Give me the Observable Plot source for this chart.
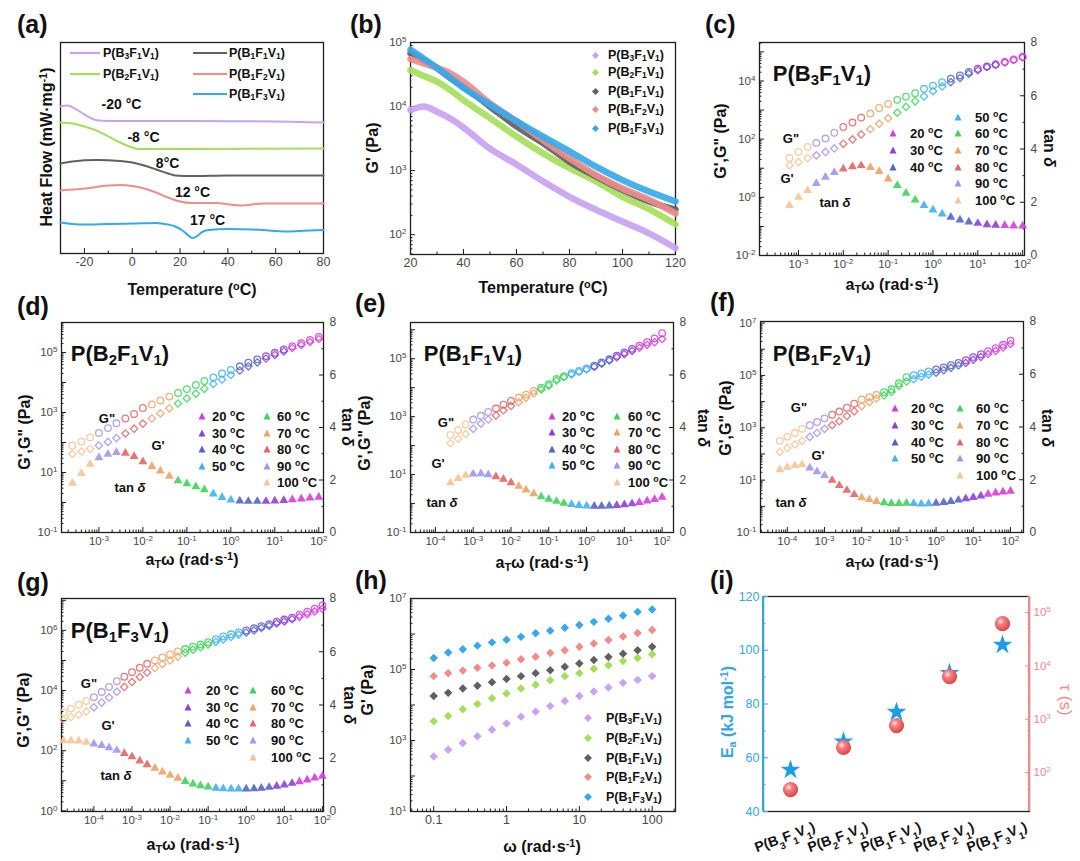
<!DOCTYPE html>
<html><head><meta charset="utf-8">
<script src="https://cdn.jsdelivr.net/npm/d3@7"></script>
<script src="https://cdn.jsdelivr.net/npm/@observablehq/plot@0.6"></script>
<style>
body{margin:0;background:#fff;}
#fig{position:relative;width:1080px;height:861px;overflow:hidden;background:#fff;font-family:"Liberation Sans",Arial,Helvetica,sans-serif;}
.ov{position:absolute;white-space:nowrap;font-weight:bold;color:#111;line-height:1;}
.ov sub{font-size:68%;vertical-align:-0.28em;line-height:0;}
.ov sup{font-size:68%;vertical-align:0.5em;line-height:0;}
</style></head><body><div id="fig"></div><script>
// ---------------- DATA ----------------
const SAMPLES = ["P(B_{3}F_{1}V_{1})","P(B_{2}F_{1}V_{1})","P(B_{1}F_{1}V_{1})","P(B_{1}F_{2}V_{1})","P(B_{1}F_{3}V_{1})"];
// (a) DSC curves (arbitrary heat-flow units, stacked)
const aX_B3F1V1 = [-30,-27,-24,-20,-17,-14,-10,0,20,40,60,80];
const aY_B3F1V1 = [69.7,70.1,68.7,65.9,64,63,62.8,62.8,62.8,62.7,62.6,62.1];
const aX_B2F1V1 = [-30,-25,-20,-15,-10,-5,0,3,10,30,50,80];
const aY_B2F1V1 = [62.1,61.6,60.2,58.3,55.5,52.6,50.2,49.5,49.5,49.5,49.6,49.8];
const aX_B1F1V1 = [-30,-25,-15,-5,0,5,10,15,18,25,40,80];
const aY_B1F1V1 = [42.7,43.6,44.3,43.8,43.1,41.7,39.8,37.9,37.0,36.7,37,37];
const aX_B1F2V1 = [-30,-20,-10,-5,0,5,10,15,20,25,35,45,55,80];
const aY_B1F2V1 = [29.9,30.8,32.2,32.5,32,30.8,28.9,26.5,24.6,23.9,23.9,22.8,23.7,23.7];
const aX_B1F3V1 = [-30,-25,-20,-10,0,10,15,18,21,24,25,27,29,32,40,50,60,65,70,80];
const aY_B1F3V1 = [14.7,14,13.7,14,14.2,14.5,13.7,12.8,10.9,8.1,7.3,8.1,10,11.1,11.6,11.4,10.7,10.4,10.7,11.1];
const aTgLabels = ["-20 °C","-8 °C","8°C","12 °C","17 °C"];
const aTgX = [-4.5,4.7,14.8,25.2,31.5];
const aTgY = [70.6,55,42.7,28.9,15.6];
const aXTicks = [-20,0,20,40,60,80];
const aXMinor = [-30,-10,10,30,50,70];
// (b) G' vs temperature
const bT = [20,25,30,35,40,50,60,70,80,90,100,110,120];
const bG_B3F1V1 = [8800,10000,8300,6500,4700,2200,1250,680,390,245,160,105,62];
const bG_B2F1V1 = [37000,30000,24500,18000,12600,6600,3400,1860,1090,680,390,250,145];
const bG_B1F1V1 = [68000,52000,40000,28000,20500,10000,4900,2700,1380,810,500,330,245];
const bG_B1F2V1 = [55000,47000,40000,33000,24500,11200,5900,3000,1560,850,525,350,215];
const bG_B1F3V1 = [77000,56000,40000,28000,19500,10700,5900,3400,2000,1150,710,470,330];
const bXTicks = [20,40,60,80,100,120];
const bXMinor = [30,50,70,90,110];
const bYTicks = [1e2,1e3,1e4,1e5];
// master curves (c)-(g): shared reduced-frequency grid (rad/s)
const FREQ = [1.6e-5,2.5e-5,4e-5,6.3e-5,1e-4,1.6e-4,2.5e-4,4e-4,6.3e-4,1e-3,1.6e-3,2.5e-3,4e-3,6.3e-3,1e-2,1.6e-2,2.5e-2,4e-2,6.3e-2,0.1,0.16,0.25,0.4,0.63,1,1.6,2.5,4,6.3,10,16,25,40,63,100];
const TEMPS = [20,30,40,50,60,70,80,90,100];
const TEMP_ORDER_LOWFREQ = [100,90,80,70,60,50,40,30,20];
// log10 G'' , log10 G' , tan delta
const cGpp = [1.35,1.56,1.73,1.87,2.02,2.22,2.42,2.57,2.74,2.88,3.07,3.21,3.35,3.46,3.58,3.73,3.84,3.96,4.08,4.19,4.31,4.42,4.50,4.57,4.65,4.74,4.83];
const cGp  = [1.10,1.21,1.35,1.44,1.56,1.68,1.84,1.99,2.16,2.34,2.53,2.72,2.91,3.11,3.30,3.47,3.65,3.81,3.96,4.10,4.25,4.37,4.48,4.56,4.64,4.72,4.81];
const cTan = [1.88,2.19,2.44,2.71,2.94,3.12,3.25,3.34,3.38,3.31,3.16,2.88,2.63,2.34,2.09,1.88,1.71,1.56,1.44,1.34,1.26,1.21,1.16,1.14,1.13,1.11,1.11];
const cCounts = [3,3,3,3,3,3,3,3,3];
const dGpp = [1.9,2.03,2.17,2.32,2.48,2.64,2.8,2.95,3.15,3.27,3.4,3.53,3.65,3.78,3.92,4.05,4.17,4.3,4.42,4.54,4.66,4.77,4.88,4.99,5.1,5.21,5.31,5.42,5.52];
const dGp  = [1.62,1.7,1.79,1.9,2.02,2.15,2.3,2.46,2.63,2.8,2.97,3.14,3.3,3.47,3.63,3.79,3.95,4.1,4.25,4.4,4.54,4.67,4.8,4.92,5.04,5.15,5.25,5.35,5.45];
const dTan = [1.88,2.25,2.6,2.85,2.98,3.05,3.02,2.9,2.7,2.52,2.35,2.15,1.97,1.86,1.75,1.63,1.47,1.34,1.24,1.2,1.19,1.19,1.19,1.2,1.22,1.25,1.28,1.32,1.35];
const dCounts = [3,3,3,3,4,3,3,3,4];
const eGpp = [2.37,2.54,2.73,2.9,3.03,3.16,3.28,3.41,3.54,3.66,3.76,3.89,4.0,4.12,4.3,4.4,4.5,4.58,4.66,4.76,4.87,4.98,5.1,5.22,5.34,5.45,5.57,5.7,5.88];
const eGp  = [2.08,2.24,2.4,2.58,2.76,2.9,3.04,3.22,3.37,3.5,3.65,3.8,3.94,4.07,4.25,4.36,4.46,4.55,4.63,4.72,4.83,4.94,5.05,5.16,5.27,5.38,5.48,5.57,5.68];
const eTan = [1.9,2.06,2.18,2.23,2.24,2.2,2.13,2.03,1.9,1.76,1.62,1.48,1.36,1.27,1.19,1.12,1.07,1.03,1.01,1.0,1.0,1.01,1.03,1.06,1.1,1.15,1.2,1.26,1.35];
const eCounts = [3,3,3,3,4,3,3,3,4];
const fGpp = [2.5,2.66,2.8,2.96,3.1,3.22,3.36,3.5,3.62,3.77,3.92,4.08,4.17,4.26,4.36,4.47,4.7,4.93,5.01,5.08,5.15,5.23,5.31,5.39,5.48,5.58,5.7,5.81,5.93,6.04,6.17,6.33];
const fGp  = [2.08,2.23,2.36,2.5,2.65,2.8,2.96,3.1,3.25,3.45,3.63,3.83,3.98,4.12,4.24,4.37,4.6,4.77,4.86,4.95,5.03,5.11,5.2,5.29,5.38,5.48,5.6,5.71,5.82,5.94,6.07,6.2];
const fTan = [2.38,2.48,2.54,2.57,2.45,2.31,2.16,1.98,1.78,1.6,1.44,1.32,1.25,1.18,1.13,1.1,1.1,1.11,1.1,1.08,1.09,1.11,1.14,1.18,1.23,1.28,1.33,1.39,1.45,1.5,1.54,1.57];
const fCounts = [4,3,4,3,4,3,4,3,4];
const gGpp = [3.27,3.4,3.53,3.65,3.78,3.95,4.12,4.31,4.46,4.61,4.76,4.89,5.0,5.1,5.2,5.3,5.38,5.46,5.53,5.61,5.71,5.8,5.87,5.93,6.0,6.07,6.14,6.21,6.29,6.36,6.42,6.52,6.62,6.72,6.83];
const gGp  = [3.02,3.12,3.2,3.3,3.44,3.6,3.77,3.96,4.12,4.28,4.45,4.6,4.75,4.88,5.0,5.13,5.26,5.36,5.44,5.53,5.62,5.7,5.78,5.86,5.93,6.0,6.08,6.15,6.23,6.3,6.37,6.45,6.54,6.63,6.72];
const gTan = [2.66,2.66,2.65,2.6,2.54,2.48,2.4,2.3,2.18,2.06,1.9,1.76,1.63,1.49,1.36,1.25,1.13,1.04,0.97,0.92,0.88,0.86,0.85,0.85,0.85,0.86,0.88,0.91,0.95,1.0,1.06,1.12,1.19,1.26,1.33];
const gCounts = [4,4,4,4,4,4,4,3,4];
const TAN_TICKS = [0,2,4,6,8];
const TAN_MINOR = [1,3,5,7];
const cXTicks = [1e-3,1e-2,1e-1,1,1e1,1e2];
const cYLabels = [1e-2,1,1e2,1e4];
const dXTicks = [1e-3,1e-2,1e-1,1,1e1,1e2];
const dYLabels = [1e-1,1e1,1e3,1e5];
const eXTicks = [1e-4,1e-3,1e-2,1e-1,1,1e1,1e2];
const eYLabels = [1e-1,1e1,1e3,1e5];
const fXTicks = [1e-4,1e-3,1e-2,1e-1,1,1e1,1e2];
const fYLabels = [1e-1,1e1,1e3,1e5,1e7];
const gXTicks = [1e-4,1e-3,1e-2,1e-1,1,1e1,1e2];
const gYLabels = [1,1e2,1e4,1e6];
// (h) frequency sweep G'
const hW = [0.1,0.158,0.251,0.398,0.631,1,1.58,2.51,3.98,6.31,10,15.8,25.1,39.8,63.1,100];
const hG_B3F1V1 = [355,550,850,1320,2000,3000,4700,6500,9300,12900,18000,24000,31000,42000,51000,65000];
const hG_B2F1V1 = [3500,4900,7600,10700,15500,21000,29000,37000,50000,65000,79000,105000,132000,174000,210000,270000];
const hG_B1F1V1 = [18000,22000,29000,35000,44000,54000,65000,79000,95000,120000,148000,186000,224000,280000,350000,440000];
const hG_B1F2V1 = [65000,78000,93000,112000,129000,155000,195000,230000,290000,350000,440000,540000,680000,850000,1070000,1290000];
const hG_B1F3V1 = [210000,300000,370000,470000,580000,690000,830000,1050000,1230000,1500000,1800000,2200000,2700000,3300000,4200000,4900000];
const hXTicks = [0.1,1,10,100];
const hYLabels = [1e1,1e3,1e5,1e7];
// (i) activation energy and relaxation time
const iEa = [55.5,66,77,91.5,102];
const iTau = [48,295,760,6300,62000];
const iEaTicks = [40,60,80,100,120];
const iEaMinor = [50,70,90,110];
const iTauTicks = [1e2,1e3,1e4,1e5];

// ---------------- STYLE ----------------
const FONT = '"Liberation Sans", Arial, Helvetica, sans-serif';
const SAMPLE_COLORS = ["#c7a3f2","#a6de5c","#606060","#ef8c8c","#36a9ea"];
const TEMP_COLORS = ["#d43ed8","#8c40d8","#5664c6","#3fb2f0","#40d35c","#eea266","#e16666","#a295ec","#f5c496"];
const INK = "#1e1e1e", TXT = "#484848";
const EA_BLUE = "#36a6e2", TAU_PINK = "#ef8a8a";
const M = {l: 50, r: 40, t: 10, b: 30};
const fig = document.getElementById("fig");

// ---------------- HELPERS ----------------
const pow = d => `10^{${Math.round(Math.log10(d))}}`;
function logMinor(lo, hi){ const o=[]; for(let e=Math.floor(Math.log10(lo));e<=Math.ceil(Math.log10(hi));e++) for(let k=2;k<=9;k++){const v=k*Math.pow(10,e); if(v>=lo&&v<=hi) o.push(v);} return o; }
function decades(lo, hi){ const o=[]; for(let e=Math.ceil(Math.log10(lo)-1e-9);e<=Math.floor(Math.log10(hi)+1e-9);e++) o.push(Math.pow(10,e)); return o; }
const sameExp = (a, b) => Math.round(Math.log10(a)) === Math.round(Math.log10(b));
function richify(svg){
  svg.querySelectorAll("text").forEach(t => {
    const s = t.textContent;
    if (!/[\^_]\{/.test(s)) return;
    t.textContent = "";
    const re = /([\^_])\{([^}]*)\}/g; let last = 0, m;
    const add = (str, type) => { if (!str) return; const ts = document.createElementNS("http://www.w3.org/2000/svg","tspan"); ts.textContent = str; if (type){ ts.setAttribute("font-size","70%"); ts.setAttribute("baseline-shift", type === "^" ? "super" : "sub"); } t.appendChild(ts); };
    while ((m = re.exec(s))) { add(s.slice(last, m.index)); add(m[2], m[1]); last = re.lastIndex; }
    add(s.slice(last));
  });
}
const rich = s => s.replace(/_\{([^}]*)\}/g,"<sub>$1</sub>").replace(/\^\{([^}]*)\}/g,"<sup>$1</sup>");
function plotBox(box, opts){
  return Plot.plot({width: box.w+M.l+M.r, height: box.h+M.t+M.b, marginLeft: M.l, marginRight: M.r, marginTop: M.t, marginBottom: M.b,
    style: {background: "transparent", fontFamily: FONT, overflow: "visible"}, ...opts});
}
function mount(svg, box){ richify(svg); svg.style.position = "absolute"; svg.style.left = (box.l-M.l)+"px"; svg.style.top = (box.t-M.t)+"px"; fig.appendChild(svg); return svg; }
function label(html, x, y, o = {}){
  const d = document.createElement("div"); d.className = "ov"; d.innerHTML = html;
  d.style.left = x+"px"; d.style.top = y+"px"; d.style.fontSize = (o.size||16)+"px";
  if (o.color) d.style.color = o.color;
  if (o.weight) d.style.fontWeight = o.weight;
  const tx = o.align === "left" ? "0" : "-50%";
  d.style.transform = `translate(${tx},-50%) rotate(${o.rot||0}deg)`;
  fig.appendChild(d); return d;
}
function marker(shape, color, x, y, s){
  const d = document.createElement("div"); d.style.position = "absolute"; d.style.left = (x-s/2)+"px"; d.style.top = (y-s/2)+"px";
  let p;
  if (shape === "tri") p = `<path d="M${s/2},0.5L${s-0.5},${s-0.5}L0.5,${s-0.5}Z" fill="${color}"/>`;
  else if (shape === "dia") p = `<path d="M${s/2},0L${s},${s/2}L${s/2},${s}L0,${s/2}Z" fill="${color}"/>`;
  else p = `<line x1="0" y1="${s/2}" x2="${s}" y2="${s/2}" stroke="${color}" stroke-width="2.2"/>`;
  d.innerHTML = `<svg width="${s}" height="${s}" style="display:block;overflow:visible">${p}</svg>`;
  fig.appendChild(d);
}
function axBottom(ticks, fmt, minor, fs = 12){
  return [Plot.axisX({ticks, tickFormat: fmt, tickSize: -5, tickPadding: 9, stroke: INK, fill: TXT, fontSize: fs, label: null}),
          Plot.axisX({ticks: minor, tickSize: -2.5, tickFormat: () => "", stroke: INK, label: null})];
}
function axSide(anchor, ticks, fmt, minor, col = INK, txt = TXT, fs = 12, pad = 9){
  return [Plot.axisY({anchor, ticks, tickFormat: fmt, tickSize: -5, tickPadding: pad, stroke: col, fill: txt, fontSize: fs, label: null}),
          Plot.axisY({anchor, ticks: minor, tickSize: -2.5, tickFormat: () => "", stroke: col, label: null})];
}
function logLeft(domain, labels, fs = 12){
  return axSide("left", decades(domain[0], domain[1]), d => labels.some(l => sameExp(l, d)) ? pow(d) : "", logMinor(domain[0], domain[1]), INK, TXT, fs);
}
const frame = () => Plot.frame({stroke: INK, strokeWidth: 1.3});

// ---------------- PANEL BOXES (frame position in the figure) ----------------
const BOX = {
  a:{l:60,t:42,w:263,h:211}, b:{l:410,t:42,w:265,h:212}, c:{l:759,t:42,w:265,h:213},
  d:{l:61,t:322,w:262,h:210}, e:{l:410,t:322,w:263,h:210}, f:{l:760,t:321,w:263,h:211},
  g:{l:61,t:598,w:262,h:213}, h:{l:410,t:598,w:265,h:213}, i:{l:763,t:596,w:266,h:215}
};

// ---------------- (a) ----------------
{
  const xs=[aX_B3F1V1,aX_B2F1V1,aX_B1F1V1,aX_B1F2V1,aX_B1F3V1], ys=[aY_B3F1V1,aY_B2F1V1,aY_B1F1V1,aY_B1F2V1,aY_B1F3V1];
  const rows = xs.flatMap((X,k) => X.map((x,i) => ({x, y: ys[k][i], s: SAMPLES[k]})));
  const tg = aTgLabels.map((t,i) => ({t, x: aTgX[i], y: aTgY[i]}));
  mount(plotBox(BOX.a, {
    x: {domain: [-30, 80]}, y: {domain: [0, 100], axis: null},
    color: {domain: SAMPLES, range: SAMPLE_COLORS},
    marks: [frame(), ...axBottom(aXTicks, String, aXMinor, 12.5),
      Plot.line(rows, {x: "x", y: "y", z: "s", stroke: "s", strokeWidth: 2, curve: "monotone-x"}),
      Plot.text(tg, {x: "x", y: "y", text: "t", fontWeight: "bold", fontSize: 14, fill: "#111"})]
  }), BOX.a);
  const leg = [[85,53,103],[85,74,103],[210,53,229],[210,74,229],[210,94,229]];
  leg.forEach(([mx,y,tx],k) => { marker("line", SAMPLE_COLORS[k], mx, y, k<2?30:34); label(rich(SAMPLES[k]), tx, y, {size: 12.5, align: "left"}); });
  label("Heat Flow (mW·mg<sup>-1</sup>)", 47, 147, {rot: -90});
  label("Temperature (<sup>o</sup>C)", 192, 290);
}
// ---------------- (b) ----------------
{
  const series = [bG_B3F1V1,bG_B2F1V1,bG_B1F1V1,bG_B1F2V1,bG_B1F3V1];
  const rows = series.flatMap((S,k) => S.map((g,i) => ({t: bT[i], g, s: SAMPLES[k]})));
  const dom = [49, 1e5];
  mount(plotBox(BOX.b, {
    x: {domain: [20, 120]}, y: {type: "log", domain: dom},
    color: {domain: SAMPLES, range: SAMPLE_COLORS},
    marks: [frame(), ...axBottom(bXTicks, String, bXMinor, 12.5), ...logLeft(dom, bYTicks, 11.5),
      Plot.line(rows, {x: "t", y: "g", z: "s", stroke: "s", strokeWidth: 6.5, strokeOpacity: 0.92, curve: "monotone-x"})]
  }), BOX.b);
  [55,72,91,109,128].forEach((y,k) => { marker("dia", SAMPLE_COLORS[k], 595, y, 7); label(rich(SAMPLES[k]), 608, y, {size: 12.5, align: "left"}); });
  label("G' (Pa)", 373, 148, {rot: -90});
  label("Temperature (<sup>o</sup>C)", 543, 288);
}
// ---------------- master curves (c)-(g) ----------------
function master(box, S){
  const n = S.Gpp.length, freqs = FREQ.slice(FREQ.length - n);
  const temps = S.counts.flatMap((c,k) => Array(c).fill(TEMP_ORDER_LOWFREQ[k]));
  const pts = freqs.map((f,i) => ({f, gpp: Math.pow(10, S.Gpp[i]), gp: Math.pow(10, S.Gp[i]), tan: S.tan[i], T: temps[i]}));
  const color = {type: "ordinal", domain: TEMPS, range: TEMP_COLORS};
  const xs = {type: "log", domain: S.xDom};
  mount(plotBox(box, {
    x: xs, y: {type: "log", domain: S.yDom}, color,
    marks: [frame(), ...axBottom(S.xTicks, pow, logMinor(S.xDom[0], S.xDom[1]), 11.5), ...logLeft(S.yDom, S.yLabels, 11.5),
      Plot.dot(pts, {x: "f", y: "gp", stroke: "T", symbol: "diamond2", r: 3.3, strokeWidth: 1.3, strokeOpacity: 0.85}),
      Plot.dot(pts, {x: "f", y: "gpp", stroke: "T", symbol: "circle", r: 3.3, strokeWidth: 1.3, strokeOpacity: 0.85})]
  }), box);
  mount(plotBox(box, {
    x: {...xs, axis: null}, y: {domain: [0, 8]}, color,
    marks: [...axSide("right", TAN_TICKS, String, TAN_MINOR, INK, TXT, 12, 11),
      Plot.dot(pts, {x: "f", y: "tan", fill: "T", symbol: "triangle", r: 3.3, fillOpacity: 0.9})]
  }), box);
  const L = S.leg;
  L.items.forEach(([T, col, row]) => {
    const tx = col === 0 ? L.t1 : L.t2, mx = col === 0 ? L.m1 : L.m2, y = L.rows[row];
    marker("tri", TEMP_COLORS[TEMPS.indexOf(T)], mx, y, 8);
    label(`${T} <sup>o</sup>C`, tx, y, {size: 13, align: "left"});
  });
  const A = S.ann;
  label(rich(S.title), A.title[0], A.title[1], {size: 22});
  label('G"', A.gpp[0], A.gpp[1], {size: 13});
  label("G'", A.gp[0], A.gp[1], {size: 13});
  label("tan <i>δ</i>", A.tan[0], A.tan[1], {size: 13});
  label("G',G\" (Pa)", A.yl[0], A.yl[1], {rot: -90});
  label("tan <i>δ</i>", A.yr[0], A.yr[1], {rot: 90});
  label("a<sub>T</sub>ω (rad·s<sup>-1</sup>)", A.xl[0], A.xl[1]);
}
const legItems5 = [[20,0,0],[30,0,1],[40,0,2],[50,0,3],[60,1,0],[70,1,1],[80,1,2],[90,1,3],[100,1,4]];
master(BOX.c, {Gpp: cGpp, Gp: cGp, tan: cTan, counts: cCounts, xDom: [1.35e-4, 110], yDom: [1e-2, 2.1e5], xTicks: cXTicks, yLabels: cYLabels, title: SAMPLES[0],
  leg: {m1: 893, t1: 910, m2: 958, t2: 975, rows: [117,133,150,167,183,200], items: [[20,0,1],[30,0,2],[40,0,3],[50,1,0],[60,1,1],[70,1,2],[80,1,3],[90,1,4],[100,1,5]]},
  ann: {title: [822,74], gpp: [791,138], gp: [787,178], tan: [835,202], yl: [721,141], yr: [1049,148], xl: [892,285]}});
master(BOX.d, {Gpp: dGpp, Gp: dGp, tan: dTan, counts: dCounts, xDom: [1.41e-4, 128], yDom: [0.1, 1e6], xTicks: dXTicks, yLabels: dYLabels, title: SAMPLES[1],
  leg: {m1: 202, t1: 212, m2: 267, t2: 277, rows: [416,433,449,466,482], items: legItems5},
  ann: {title: [120,354], gpp: [107,418], gp: [158,445], tan: [130,487], yl: [25,432], yr: [347,427], xl: [192,560]}});
master(BOX.e, {Gpp: eGpp, Gp: eGp, tan: eTan, counts: eCounts, xDom: [2.19e-5, 200], yDom: [0.1, 1.78e6], xTicks: eXTicks, yLabels: eYLabels, title: SAMPLES[2],
  leg: {m1: 552, t1: 562, m2: 617, t2: 628, rows: [416,432,449,465,482], items: legItems5},
  ann: {title: [473,354], gpp: [446,422], gp: [438,463], tan: [442,502], yl: [365,433], yr: [703,428], xl: [542,563]}});
master(BOX.f, {Gpp: fGpp, Gp: fGp, tan: fTan, counts: fCounts, xDom: [1.9e-5, 224], yDom: [0.1, 1.15e7], xTicks: fXTicks, yLabels: fYLabels, title: SAMPLES[3],
  leg: {m1: 895, t1: 911, m2: 960, t2: 976, rows: [408,425,442,458,475], items: legItems5},
  ann: {title: [822,354], gpp: [799,407], gp: [818,455], tan: [791,502], yl: [726,418], yr: [1047,428], xl: [892,562]}});
master(BOX.g, {Gpp: gGpp, Gp: gGp, tan: gTan, counts: gCounts, xDom: [1.41e-5, 107], yDom: [0.95, 1.15e7], xTicks: gXTicks, yLabels: gYLabels, title: SAMPLES[4],
  leg: {m1: 188, t1: 206, m2: 253, t2: 271, rows: [690,707,723,740,757], items: legItems5},
  ann: {title: [120,631], gpp: [89,683], gp: [108,725], tan: [116,775], yl: [24,710], yr: [349,705], xl: [193,845]}});
// ---------------- (h) ----------------
{
  const series = [hG_B3F1V1,hG_B2F1V1,hG_B1F1V1,hG_B1F2V1,hG_B1F3V1];
  const rows = series.flatMap((S,k) => S.map((g,i) => ({w: hW[i], g, s: SAMPLES[k]})));
  const xd = [0.048, 209], yd = [10, 1e7];
  mount(plotBox(BOX.h, {
    x: {type: "log", domain: xd}, y: {type: "log", domain: yd},
    color: {domain: SAMPLES, range: SAMPLE_COLORS},
    marks: [frame(), ...axBottom(hXTicks, String, logMinor(xd[0], xd[1]), 12.5), ...logLeft(yd, hYLabels, 11.5),
      Plot.dot(rows, {x: "w", y: "g", fill: "s", symbol: "diamond2", r: 3.8})]
  }), BOX.h);
  [718,738,758,777,797].forEach((y,k) => { marker("dia", SAMPLE_COLORS[k], 588, y, 8); label(rich(SAMPLES[k]), 606, y, {size: 12.5, align: "left"}); });
  label("G' (Pa)", 368, 690, {rot: -90});
  label("ω (rad·s<sup>-1</sup>)", 542, 847);
}
// ---------------- (i) ----------------
{
  const rows = SAMPLES.map((s,i) => ({s, ea: iEa[i], tau: iTau[i]}));
  const xs = {type: "point", domain: SAMPLES, padding: 0.5};
  const td = [18.6, 2e5];
  mount(plotBox(BOX.i, {
    x: xs, y: {domain: [40, 120]},
    marks: [frame(),
      Plot.axisX({tickSize: 0, tickPadding: 15, tickRotate: -20, textAnchor: "end", lineAnchor: "middle", dx: 24, fontSize: 14, fontWeight: "bold", fill: "#111", label: null}),
      ...axSide("left", iEaTicks, String, iEaMinor, EA_BLUE, EA_BLUE, 12.5),
      Plot.dot(rows, {x: "s", y: "ea", symbol: "star", fill: "#1e9ce6", r: 6.2})]
  }), BOX.i);
  const over = mount(plotBox(BOX.i, {
    x: {...xs, axis: null}, y: {type: "log", domain: td},
    marks: [...axSide("right", iTauTicks, pow, logMinor(td[0], td[1]), TAU_PINK, TAU_PINK, 11.5),
      Plot.dot(rows, {x: "s", y: "tau", fill: "url(#ballGrad)", r: 7.6})]
  }), BOX.i);
  const s = d3.select(over);
  const g = s.insert("defs", ":first-child").append("radialGradient").attr("id", "ballGrad").attr("cx", "38%").attr("cy", "35%").attr("r", "65%");
  g.append("stop").attr("offset", "0%").attr("stop-color", "#ffe4e4");
  g.append("stop").attr("offset", "35%").attr("stop-color", "#f47f7f");
  g.append("stop").attr("offset", "100%").attr("stop-color", "#d94848");
  s.append("line").attr("x1", M.l).attr("x2", M.l).attr("y1", M.t).attr("y2", M.t + BOX.i.h).attr("stroke", EA_BLUE).attr("stroke-width", 2);
  s.append("line").attr("x1", M.l + BOX.i.w).attr("x2", M.l + BOX.i.w).attr("y1", M.t).attr("y2", M.t + BOX.i.h).attr("stroke", TAU_PINK).attr("stroke-width", 2);
  label("E<sub>a</sub> (kJ mol<sup>-1</sup>)", 728, 712, {rot: -90, color: EA_BLUE});
  label("τ (s)", 1065, 700, {rot: 90, color: TAU_PINK, weight: "normal", size: 17});
}
// ---------------- panel letters ----------------
[["(a)",17,24],["(b)",350,24],["(c)",705,24],["(d)",17,306],["(e)",355,303],["(f)",710,302],["(g)",17,582],["(h)",355,580],["(i)",710,580]]
  .forEach(([t,x,y]) => label(t, x, y, {size: 25, align: "left"}));
</script></body></html>
